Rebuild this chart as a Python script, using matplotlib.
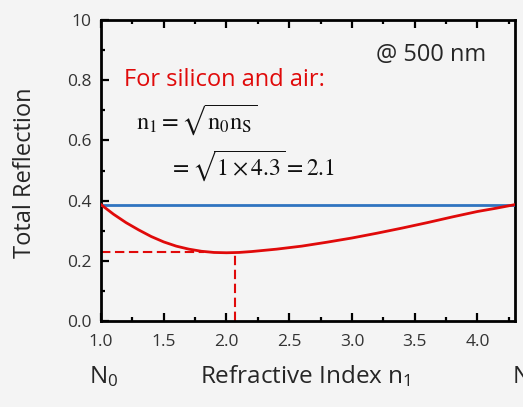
import numpy as np
import matplotlib
matplotlib.use("Agg")
import matplotlib.pyplot as plt
from matplotlib.ticker import MultipleLocator

plt.rcParams.update({
    'font.family': ['Open Sans', 'DejaVu Sans'],
    'mathtext.fontset': 'stix',
    'mathtext.default': 'regular',
})

# Total reflection vs coating index n1 (silicon / air, 500 nm)
n1 = [1.0, 1.1, 1.2, 1.3, 1.4, 1.5, 1.6, 1.7, 1.8, 1.9, 2.0, 2.1, 2.2,
      2.4, 2.6, 2.8, 3.0, 3.2, 3.4, 3.6, 3.8, 4.0, 4.15, 4.3]
reflection = [0.387, 0.355, 0.327, 0.303, 0.281, 0.263, 0.249, 0.239, 0.232,
              0.228, 0.227, 0.228, 0.231, 0.239, 0.249, 0.262, 0.276, 0.292,
              0.309, 0.327, 0.346, 0.364, 0.375, 0.387]
bare_si = 0.387          # uncoated silicon reflection
n_opt = 2.07             # sqrt(1 x 4.3)
r_min = 0.228
n_guide_end = 1.82       # horizontal guide stops at the curve

x_ticks = [1.0, 1.5, 2.0, 2.5, 3.0, 3.5, 4.0]
x_tick_labels = ['1.0', '1.5', '2.0', '2.5', '3.0', '3.5', '4.0']
y_ticks = [0.0, 0.2, 0.4, 0.6, 0.8, 1.0]
y_tick_labels = ['0.0', '0.2', '0.4', '0.6', '0.8', '10']

RED = '#e00a0a'
BLUE = '#2f74c0'
BG = '#f4f4f4'
INK = '#262626'

fig = plt.figure(figsize=(5.23, 4.07), dpi=100, facecolor=BG)
ax = fig.add_axes([0.193, 0.211, 0.792, 0.740], facecolor=BG)

ax.axhline(bare_si, color=BLUE, lw=2.0, zorder=3)
ax.plot(n1, reflection, color=RED, lw=2.0, zorder=4)

# guide lines to the minimum
ax.plot([1.0, n_guide_end], [r_min, r_min], color=RED, lw=1.5,
        ls=(0, (4.5, 2.2)), zorder=2)
ax.plot([n_opt, n_opt], [0, r_min], color=RED, lw=1.5,
        ls=(0, (4.5, 2.2)), zorder=2)

ax.set_xlim(1.0, 4.3)
ax.set_ylim(0, 1.0)
ax.set_xticks(x_ticks)
ax.set_xticklabels(x_tick_labels)
ax.set_yticks(y_ticks)
ax.set_yticklabels(y_tick_labels)
ax.xaxis.set_minor_locator(MultipleLocator(0.25))
ax.yaxis.set_minor_locator(MultipleLocator(0.1))

ax.tick_params(which='both', direction='in', top=True, right=False,
               width=1.6, labelsize=12.5, labelcolor='#333333')
ax.tick_params(axis='x', pad=9)
ax.tick_params(axis='y', pad=7)
ax.tick_params(which='major', length=5.5)
ax.tick_params(which='minor', length=3)
for side in ax.spines.values():
    side.set_linewidth(2.0)

fig.text(25 / 523, 0.575, 'Total Reflection', rotation=90, fontsize=17,
         color=INK, ha='center', va='center')

ax.text(0.055, 0.80, 'For silicon and air:', transform=ax.transAxes,
        color=RED, fontsize=17, va='center')
ax.text(0.665, 0.885, '@ 500 nm', transform=ax.transAxes,
        color=INK, fontsize=17, va='center')
ax.text(0.085, 0.668, r'$\mathrm{n_1 = \sqrt{n_0 n_S}}$', transform=ax.transAxes,
        color='#111111', fontsize=17.5, va='center')
ax.text(0.165, 0.518, r'$\mathrm{= \sqrt{1\times4.3} = 2.1}$', transform=ax.transAxes,
        color='#111111', fontsize=17, va='center')

base_y = 1 - 383 / 407
fig.text(0.583, base_y, 'Refractive Index n$_1$', fontsize=17.5, color=INK,
         ha='center', va='baseline')
fig.text(0.171, base_y, 'N$_0$', fontsize=17.5, color=INK,
         ha='left', va='baseline')
fig.text(0.979, base_y, 'N$_S$', fontsize=17.5, color=INK,
         ha='left', va='baseline')

fig.savefig('out.png', dpi=100, facecolor=BG)
